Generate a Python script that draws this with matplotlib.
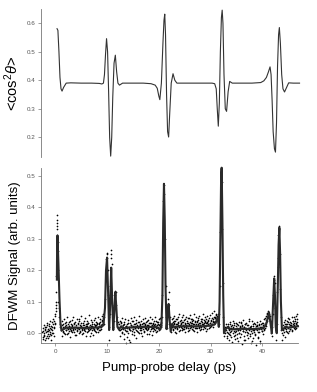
import matplotlib
matplotlib.use("Agg")
import matplotlib.pyplot as plt
import numpy as np

plt.rcParams['font.family'] = ['Liberation Sans', 'DejaVu Sans']
plt.rcParams['mathtext.fontset'] = 'custom'
plt.rcParams['mathtext.rm'] = 'Liberation Sans'
plt.rcParams['mathtext.it'] = 'Liberation Sans:italic'

# top panel: calculated alignment <cos^2 theta> (ps, value)
align_t = [0.33, 0.5, 0.7, 0.9, 1.1, 1.3, 1.6, 2.1, 3, 5, 7, 8.5, 9.0, 9.3, 9.5, 9.7,
           9.9, 10.1, 10.3, 10.5, 10.7, 10.9, 11.1, 11.35, 11.6, 11.85, 12.1, 12.4, 13,
           15, 17, 18.5, 19.3, 19.7, 20.0, 20.2, 20.5, 20.8, 21.0, 21.15, 21.3, 21.5,
           21.7, 21.9, 22.1, 22.4, 22.75, 23.1, 23.5, 25, 28, 30.3, 30.8, 31.1, 31.3,
           31.5, 31.7, 31.9, 32.1, 32.25, 32.4, 32.6, 32.85, 33.1, 33.4, 33.7, 34.2, 36,
           38, 39.7, 40.3, 40.8, 41.2, 41.5, 41.7, 41.9, 42.1, 42.35, 42.55, 42.75,
           42.95, 43.15, 43.3, 43.5, 43.75, 44.0, 44.3, 44.7, 45.1, 46, 47.2]
align_v = [0.581, 0.575, 0.5, 0.41, 0.37, 0.362, 0.375, 0.39, 0.391, 0.39, 0.39, 0.389,
           0.387, 0.39, 0.42, 0.49, 0.546, 0.5, 0.36, 0.2, 0.134, 0.2, 0.34, 0.46,
           0.488, 0.43, 0.39, 0.383, 0.39, 0.39, 0.39, 0.388, 0.383, 0.372, 0.345,
           0.332, 0.39, 0.53, 0.61, 0.632, 0.56, 0.35, 0.22, 0.201, 0.28, 0.39, 0.423,
           0.4, 0.39, 0.39, 0.39, 0.39, 0.388, 0.37, 0.3, 0.239, 0.32, 0.5, 0.62, 0.646,
           0.6, 0.42, 0.3, 0.291, 0.36, 0.396, 0.39, 0.39, 0.39, 0.392, 0.398, 0.41,
           0.43, 0.447, 0.42, 0.33, 0.22, 0.16, 0.148, 0.25, 0.45, 0.56, 0.585, 0.53,
           0.42, 0.37, 0.359, 0.375, 0.391, 0.39, 0.39]

# bottom panel: fitted DFWM signal (ps, value)
fit_t = [0.3, 0.35, 0.42, 0.6, 0.8, 1.0, 1.2, 1.5, 2.0, 3, 4, 5, 6, 7, 8, 8.8, 9.3, 9.6,
         9.8, 10.0, 10.2, 10.4, 10.6, 10.8, 11.0, 11.2, 11.4, 11.6, 11.8, 12.0, 12.3,
         12.7, 13.2, 14, 16, 18, 19.5, 20.2, 20.5, 20.7, 20.85, 21.0, 21.15, 21.3, 21.5,
         21.7, 21.9, 22.1, 22.3, 22.6, 23.0, 24, 26, 28, 30, 30.8, 31.2, 31.4, 31.6,
         31.75, 31.9, 32.05, 32.15, 32.3, 32.45, 32.6, 32.9, 33.3, 34, 36, 38, 40, 40.7,
         41.1, 41.3, 41.6, 41.85, 42.1, 42.3, 42.45, 42.6, 42.8, 43.0, 43.15, 43.3,
         43.45, 43.6, 43.8, 44.0, 44.4, 45, 46, 46.9]
fit_v = [0.17, 0.28, 0.31, 0.22, 0.11, 0.03, 0.008, 0.012, 0.018, 0.016, 0.018, 0.017,
         0.016, 0.018, 0.018, 0.02, 0.025, 0.08, 0.2, 0.24, 0.13, 0.01, 0.09, 0.208,
         0.1, 0.01, 0.07, 0.13, 0.08, 0.02, 0.012, 0.022, 0.015, 0.018, 0.02, 0.02,
         0.02, 0.012, 0.02, 0.12, 0.35, 0.474, 0.36, 0.15, 0.013, 0.06, 0.093, 0.04,
         0.005, 0.03, 0.018, 0.022, 0.022, 0.022, 0.024, 0.028, 0.04, 0.05, 0.02, 0.1,
         0.3, 0.5, 0.525, 0.35, 0.12, 0.0, 0.012, 0.02, 0.012, 0.014, 0.013, 0.015,
         0.025, 0.05, 0.066, 0.03, 0.0, 0.1, 0.174, 0.12, 0.02, 0.0, 0.15, 0.28, 0.335,
         0.25, 0.1, 0.01, 0.012, 0.02, 0.018, 0.02, 0.022]

# measured points, baseline scans (start ps, step ps, values in 1e-3)
scan_a = (-2.5, 0.1, [5, -12, 18, 2, -8, 21, 10, -15, 7, 25, -3, 12, 30, -10, 16, 4, 22,
                      -6, 35, 11, 28, 1, 40, 19, 55, 32, 90, 180])
scan_a2 = (-2.45, 0.1, [-18, 8, 26, -5, 14, -22, 3, 19, -10, 31, 6, -16, 24, 9, -4, 38,
                        13, -20, 20, 2, 45, 15, -8, 30, 62, 70, 130])
scan_b = (1.2, 0.1, [12, 25, 8, 30, 18, 2, 22, 15, 35, 10, 20, -2, 28, 14, 6, 24, 17, 40,
                     11, 19, 3, 27, 16, 9, 33, 21, 13, -5, 26, 18, 7, 29, 15, 45, 12, 20,
                     4, 23, 31, 10, 17, 0, 25, 14, 38, 19, 8, 22, 16, 28, 5, 13, 34, 20,
                     11, -8, 24, 18, 30, 9, 21, 15, 42, 12, 27, 6, 19, 25, 14, 32, 17, 3,
                     23, 28, 11, 36, 20, 26, 41, 30, 48, 35])
scan_b2 = (1.25, 0.1, [-10, 38, 20, 5, 44, 15, -4, 32, 26, 9, 50, 18, 0, 36, 22, 12, -12,
                       30, 8, 41, 24, 14, 52, 3, 28, 19, 37, -6, 21, 46, 11, 33, 16, 1,
                       39, 25, 6, 55, 20, 13, -3, 34, 27, 10, 48, 17, 29, -9, 23, 40, 7,
                       31, 19, 58, 14, 26, 2, 43, 22, 35, -7, 18, 30, 11, 47, 24, 4, 37,
                       15, 28, 51, 9, 33, 20, 44, 26, 13, 39, 55, 28, 60])
scan_d = (12.4, 0.1, [28, 10, 22, 35, 5, 18, 26, 12, -4, 30, 15, 20, 8, 24, -12, 17, 33,
                      2, 21, 14, -28, 9, 25, 19, 38, 6, 23, 13, 29, -6, 16, 31, 11, 20,
                      27, 4, 18, 36, 22, 10, 25, 15, 0, 28, 19, 33, 12, 7, 24, 17, 30,
                      21, 14, 39, 9, 26, 18, -3, 22, 31, 13, 20, 27, 16, 8, 34, 19, 25,
                      11, 29, 23, 15, 37, 6, 21, 30, 18, 26, 12, 24, 32, 20])
scan_d2 = (12.45, 0.1, [40, -8, 31, 14, 48, 2, 27, 19, -18, 36, 11, 44, 22, -30, 29, 6,
                        41, 16, -22, 34, 9, 25, 47, -2, 20, 38, 13, 52, 4, 30, 18, -14,
                        43, 24, 7, 35, 21, 55, 1, 28, 15, 39, 10, -10, 46, 23, 32, 5, 27,
                        49, 17, 36, -4, 26, 42, 12, 31, 20, 53, 8, 33, 24, -6, 45, 18, 29,
                        38, 14, 50, 22, 3, 40, 27, 16, 35, 44, 11, 30, 47, 25, 36])
scan_f = (22.6, 0.1, [20, 35, 12, 28, 40, 18, 5, 30, 22, 45, 15, 26, 33, 8, 24, 38, 19,
                      29, 11, 36, 25, 14, 42, 21, 31, 3, 27, 17, 34, 23, 48, 16, 29, 10,
                      37, 22, 26, 44, 13, 32, 20, 28, 7, 39, 24, 30, 18, 35, 15, 27, 41,
                      21, 33, 9, 25, 38, 19, 29, 46, 23, 14, 34, 27, 40, 17, 31, 22, 36,
                      12, 28, 43, 25, 19, 33, 38, 26, 47, 30, 21, 40, 35, 28, 52, 33, 45,
                      38, 55])
scan_f2 = (22.65, 0.1, [48, 10, 33, 55, 22, 38, 1, 44, 29, 14, 52, 35, 20, 60, 26, 9, 41,
                        31, 50, 17, 36, 58, 24, 12, 45, 30, 53, 19, 40, 6, 34, 49, 27, 15,
                        57, 32, 21, 46, 38, 11, 43, 28, 62, 18, 35, 51, 24, 4, 39, 47, 30,
                        16, 55, 33, 22, 44, 13, 37, 60, 28, 41, 19, 50, 35, 8, 46, 31, 54,
                        25, 39, 17, 48, 34, 58, 23, 42, 30, 65, 45, 36, 52, 70, 48, 40,
                        62, 58])
scan_h = (33.1, 0.1, [5, -8, 15, 22, -2, 10, 28, 3, 18, -12, 12, 25, 0, 20, 8, 32, -5, 14,
                      24, 6, 17, -15, 11, 27, 2, 19, 9, 35, -3, 16, 23, 7, 13, -20, 21, 4,
                      29, 10, 15, -6, 26, 1, 18, 12, 38, -9, 20, 8, 24, 14, -25, 11, 30,
                      5, 17, -1, 22, 13, 9, 27, -14, 16, 3, 25, 19, -30, 12, 28, 6, 21,
                      15, 33, 10, 24, 30, 18, 42, 35, 50, 60])
scan_h2 = (33.15, 0.1, [-15, 20, 2, 30, -22, 12, 35, -5, 24, 8, -28, 18, 40, -10, 26, 4,
                        -18, 33, 14, -2, 28, -25, 10, 37, 0, 22, -12, 31, 16, -35, 25, 6,
                        42, -8, 19, 29, -20, 13, 34, 3, -14, 27, 9, 45, -4, 21, -30, 15,
                        38, 1, 24, -16, 32, 11, -6, 28, 18, -38, 22, 36, 5, -12, 30, 14,
                        40, -24, 20, 8, 34, -2, 26, 44, 12, 30, 48, 22, 55, 40, 65])
scan_j = (44.0, 0.1, [10, 25, 3, 18, 30, 12, 22, 5, 28, 16, 35, 8, 20, 26, 14, 32, 19, 24,
                      11, 29, 38, 17, 27, 21, 40, 15, 33, 25, 45])
scan_j2 = (44.05, 0.1, [-5, 35, 15, 42, -12, 28, 8, 38, 20, 48, 2, 30, 44, 12, 36, 25, 52,
                        6, 40, 22, 32, 50, 14, 45, 28, 55, 36, 60])

# measured points around the revivals (ps, value)
peak_t = [0.25, 0.28, 0.3, 0.32, 0.35, 0.38, 0.4, 0.42, 0.45, 0.5, 0.55, 0.6, 0.7, 0.8,
          0.9, 1.0, 1.1, 0.2, 0.22,
          9.4, 9.5, 9.6, 9.7, 9.8, 9.9, 10.0, 10.1, 10.2, 10.3, 10.4, 10.5, 10.6, 10.7,
          10.8, 10.9, 11.0, 11.1, 11.2, 11.3, 11.4, 11.5, 11.6, 11.7, 11.8, 11.9, 12.0,
          12.1, 12.2, 12.3, 10.45, 10.85, 9.95,
          20.6, 20.7, 20.8, 20.9, 21.0, 21.1, 21.2, 21.3, 21.4, 21.5, 21.6, 21.7, 21.8,
          21.9, 22.0, 22.1, 22.2, 22.3, 22.4, 22.5,
          31.3, 31.4, 31.5, 31.6, 31.7, 31.8, 31.9, 32.0, 32.1, 32.2, 32.3, 32.4, 32.5,
          32.6, 32.7, 32.8, 32.9, 33.0,
          41.1, 41.2, 41.3, 41.4, 41.5, 41.6, 41.7, 41.8, 41.9, 42.0, 42.1, 42.2, 42.3,
          42.4, 42.5, 42.6, 42.7, 42.8, 42.9, 43.0, 43.1, 43.2, 43.3, 43.4, 43.5, 43.6,
          43.7, 43.8, 43.9, 42.95]
peak_v = [0.24, 0.3, 0.33, 0.36, 0.375, 0.35, 0.34, 0.31, 0.29, 0.26, 0.2, 0.1, 0.08,
          0.05, 0.03, 0.02, 0.01, 0.08, 0.1,
          0.03, 0.05, 0.11, 0.18, 0.235, 0.25, 0.24, 0.2, 0.12, 0.05, 0.02, 0.06, 0.15,
          0.24, 0.265, 0.22, 0.12, 0.04, 0.02, 0.04, 0.09, 0.12, 0.135, 0.13, 0.09, 0.05,
          0.03, 0.02, 0.035, 0.01, -0.02, 0.25, 0.255,
          0.05, 0.12, 0.28, 0.42, 0.47, 0.44, 0.3, 0.15, 0.05, 0.015, 0.03, 0.07, 0.11,
          0.13, 0.09, 0.05, 0.02, 0.005, 0.03, 0.045,
          0.05, 0.06, 0.045, 0.03, 0.06, 0.15, 0.32, 0.46, 0.52, 0.48, 0.33, 0.16, 0.05,
          -0.01, 0.0, 0.02, 0.01, 0.03,
          0.065, 0.07, 0.06, 0.055, 0.04, 0.02, 0.0, -0.01, 0.02, 0.06, 0.12, 0.17, 0.18,
          0.16, 0.08, 0.02, -0.02, 0.03, 0.13, 0.24, 0.31, 0.34, 0.33, 0.25, 0.14, 0.05,
          0.01, -0.02, 0.0, 0.21]

scans = (scan_a, scan_a2, scan_b, scan_b2, scan_d, scan_d2, scan_f, scan_f2,
         scan_h, scan_h2, scan_j, scan_j2)
dots_t, dots_v = list(peak_t), list(peak_v)
for start, step, vals in scans:
    dots_t += list(start + step * np.arange(len(vals)))
    dots_v += list(np.array(vals) / 1000.0)

fig = plt.figure(figsize=(3.17, 3.92), dpi=100)
ax1 = fig.add_axes([0.1293, 0.6003, 0.8107, 0.376])
ax2 = fig.add_axes([0.1293, 0.1242, 0.8107, 0.4472])

gray = '#777777'
for ax in (ax1, ax2):
    ax.set_xlim(-2.77, 46.9)
    for s in ('top', 'right'):
        ax.spines[s].set_visible(False)
    for s in ('left', 'bottom'):
        ax.spines[s].set_color(gray)
        ax.spines[s].set_linewidth(0.6)
    ax.tick_params(axis='both', direction='out', length=2.5, width=0.5, color=gray,
                   labelsize=4.5, labelcolor='#555555', pad=1.5)

# top panel
ax1.plot(align_t, align_v, color='#333333', lw=0.8, clip_on=False)
ax1.set_ylim(0.132, 0.649)
ax1.set_yticks([0.2, 0.3, 0.4, 0.5, 0.6])
ax1.spines['bottom'].set_visible(False)
ax1.set_xticks([])
ax1.set_ylabel(r'<cos$^2\theta$>', fontsize=10.5, labelpad=4)

# bottom panel
ax2.scatter(dots_t, dots_v, s=1.5, color='black', linewidths=0, clip_on=False)
ax2.plot(fit_t, fit_v, color='#2a2a2a', lw=1.5, clip_on=False)
ax2.set_ylim(-0.032, 0.524)
ax2.set_yticks([0.0, 0.1, 0.2, 0.3, 0.4, 0.5])
ax2.set_xticks([0, 10, 20, 30, 40])
ax2.set_ylabel('DFWM Signal (arb. units)', fontsize=9.5, labelpad=4)
ax2.set_xlabel('Pump-probe delay (ps)', fontsize=9.5, labelpad=6)

fig.savefig('out.png', dpi=100)
